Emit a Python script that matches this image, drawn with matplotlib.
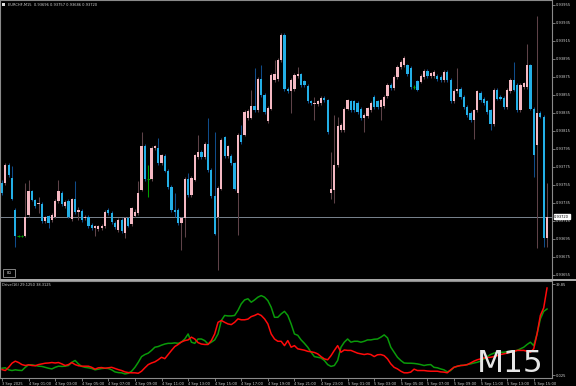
import matplotlib
matplotlib.use('Agg')
import matplotlib.pyplot as plt
from matplotlib.patches import Rectangle
import numpy as np

# EURCHF M15 candles, 3 Sep 23:00 -> 5 Sep 16:00
opens = [0.93757, 0.93757, 0.93777, 0.93763, 0.93727, 0.93698, 0.93698, 0.93698, 0.93722, 0.93748,
         0.93738, 0.93734, 0.93734, 0.93715, 0.93721, 0.93716, 0.93720, 0.93737, 0.93746, 0.93732,
         0.93737, 0.93717, 0.93739, 0.93725, 0.93726, 0.93718, 0.93720, 0.93711, 0.93707, 0.93706,
         0.93707, 0.93709, 0.93727, 0.93724, 0.93713, 0.93705, 0.93716, 0.93702, 0.93718, 0.93712,
         0.93721, 0.93724, 0.93749, 0.93798, 0.93762, 0.93762, 0.93796, 0.93796, 0.93779, 0.93787,
         0.93771, 0.93753, 0.93727, 0.93727, 0.93713, 0.93718, 0.93762, 0.93744, 0.93761, 0.93786,
         0.93792, 0.93786, 0.93801, 0.93772, 0.93743, 0.93720, 0.93751, 0.93808, 0.93787, 0.93787,
         0.93779, 0.93746, 0.93811, 0.93811, 0.93829, 0.93830, 0.93843, 0.93838, 0.93873, 0.93855,
         0.93826, 0.93840, 0.93872, 0.93873, 0.93894, 0.93922, 0.93862, 0.93859, 0.93862, 0.93876,
         0.93878, 0.93870, 0.93865, 0.93848, 0.93845, 0.93845, 0.93846, 0.93852, 0.93849, 0.93746,
         0.93749, 0.93777, 0.93816, 0.93816, 0.93840, 0.93848, 0.93848, 0.93846, 0.93840, 0.93829,
         0.93832, 0.93838, 0.93853, 0.93848, 0.93842, 0.93843, 0.93854, 0.93866, 0.93863, 0.93875,
         0.93886, 0.93888, 0.93888, 0.93885, 0.93864, 0.93870, 0.93870, 0.93875, 0.93882, 0.93876,
         0.93876, 0.93876, 0.93875, 0.93872, 0.93881, 0.93872, 0.93848, 0.93859, 0.93862, 0.93853,
         0.93842, 0.93835, 0.93827, 0.93838, 0.93857, 0.93851, 0.93848, 0.93838, 0.93823, 0.93861,
         0.93853, 0.93852, 0.93842, 0.93859, 0.93872, 0.93866, 0.93838, 0.93864, 0.93864, 0.93888,
         0.93840, 0.93799, 0.93835, 0.93831, 0.93696]
highs = [0.93761, 0.93779, 0.93779, 0.93776, 0.93729, 0.93699, 0.93700, 0.93757, 0.93761, 0.93749,
         0.93740, 0.93742, 0.93736, 0.93721, 0.93722, 0.93724, 0.93739, 0.93761, 0.93748, 0.93738,
         0.93739, 0.93741, 0.93759, 0.93731, 0.93728, 0.93722, 0.93722, 0.93713, 0.93711, 0.93711,
         0.93712, 0.93727, 0.93729, 0.93726, 0.93715, 0.93718, 0.93718, 0.93720, 0.93720, 0.93731,
         0.93728, 0.93759, 0.93814, 0.93801, 0.93777, 0.93798, 0.93800, 0.93807, 0.93790, 0.93789,
         0.93773, 0.93755, 0.93746, 0.93729, 0.93720, 0.93764, 0.93768, 0.93765, 0.93790, 0.93811,
         0.93794, 0.93803, 0.93830, 0.93774, 0.93814, 0.93754, 0.93807, 0.93810, 0.93800, 0.93789,
         0.93781, 0.93813, 0.93822, 0.93838, 0.93839, 0.93861, 0.93885, 0.93875, 0.93888, 0.93857,
         0.93843, 0.93879, 0.93894, 0.93896, 0.93924, 0.93924, 0.93864, 0.93874, 0.93879, 0.93886,
         0.93880, 0.93872, 0.93867, 0.93850, 0.93853, 0.93850, 0.93854, 0.93854, 0.93851, 0.93792,
         0.93833, 0.93831, 0.93824, 0.93842, 0.93851, 0.93850, 0.93850, 0.93848, 0.93842, 0.93835,
         0.93842, 0.93848, 0.93855, 0.93850, 0.93851, 0.93855, 0.93868, 0.93868, 0.93877, 0.93888,
         0.93894, 0.93898, 0.93890, 0.93887, 0.93866, 0.93872, 0.93878, 0.93884, 0.93884, 0.93881,
         0.93883, 0.93878, 0.93877, 0.93883, 0.93883, 0.93874, 0.93862, 0.93885, 0.93864, 0.93855,
         0.93844, 0.93837, 0.93840, 0.93861, 0.93859, 0.93853, 0.93850, 0.93840, 0.93863, 0.93863,
         0.93855, 0.93854, 0.93863, 0.93874, 0.93892, 0.93868, 0.93868, 0.93870, 0.93912, 0.93890,
         0.93842, 0.93943, 0.93837, 0.93833, 0.93757]
lows = [0.93744, 0.93755, 0.93764, 0.93738, 0.93686, 0.93697, 0.93697, 0.93697, 0.93720, 0.93737,
        0.93730, 0.93724, 0.93713, 0.93713, 0.93707, 0.93714, 0.93718, 0.93735, 0.93732, 0.93730,
        0.93718, 0.93715, 0.93723, 0.93716, 0.93714, 0.93716, 0.93707, 0.93705, 0.93698, 0.93704,
        0.93705, 0.93707, 0.93722, 0.93712, 0.93706, 0.93703, 0.93702, 0.93696, 0.93708, 0.93710,
        0.93719, 0.93722, 0.93748, 0.93759, 0.93742, 0.93760, 0.93794, 0.93777, 0.93777, 0.93769,
        0.93751, 0.93725, 0.93720, 0.93711, 0.93683, 0.93697, 0.93742, 0.93742, 0.93759, 0.93784,
        0.93784, 0.93784, 0.93770, 0.93741, 0.93699, 0.93661, 0.93749, 0.93785, 0.93785, 0.93777,
        0.93749, 0.93699, 0.93801, 0.93809, 0.93827, 0.93828, 0.93836, 0.93836, 0.93853, 0.93834,
        0.93824, 0.93838, 0.93870, 0.93871, 0.93892, 0.93860, 0.93857, 0.93835, 0.93860, 0.93874,
        0.93864, 0.93864, 0.93846, 0.93844, 0.93827, 0.93843, 0.93844, 0.93847, 0.93812, 0.93740,
        0.93735, 0.93775, 0.93814, 0.93814, 0.93838, 0.93836, 0.93836, 0.93834, 0.93827, 0.93814,
        0.93830, 0.93836, 0.93840, 0.93840, 0.93827, 0.93841, 0.93852, 0.93861, 0.93861, 0.93873,
        0.93884, 0.93886, 0.93876, 0.93862, 0.93862, 0.93859, 0.93868, 0.93873, 0.93874, 0.93874,
        0.93874, 0.93871, 0.93870, 0.93870, 0.93870, 0.93846, 0.93846, 0.93857, 0.93851, 0.93840,
        0.93831, 0.93825, 0.93806, 0.93836, 0.93847, 0.93844, 0.93834, 0.93816, 0.93821, 0.93849,
        0.93849, 0.93840, 0.93840, 0.93857, 0.93859, 0.93836, 0.93836, 0.93862, 0.93862, 0.93838,
        0.93764, 0.93685, 0.93829, 0.93686, 0.93686]
closes = [0.93746, 0.93777, 0.93766, 0.93739, 0.93698, 0.93698, 0.93698, 0.93720, 0.93748, 0.93738,
          0.93732, 0.93735, 0.93715, 0.93719, 0.93713, 0.93722, 0.93737, 0.93748, 0.93734, 0.93736,
          0.93720, 0.93739, 0.93725, 0.93727, 0.93716, 0.93720, 0.93709, 0.93707, 0.93709, 0.93709,
          0.93710, 0.93725, 0.93724, 0.93714, 0.93708, 0.93716, 0.93704, 0.93718, 0.93710, 0.93729,
          0.93725, 0.93746, 0.93798, 0.93762, 0.93762, 0.93796, 0.93798, 0.93779, 0.93788, 0.93771,
          0.93753, 0.93727, 0.93725, 0.93713, 0.93718, 0.93762, 0.93744, 0.93763, 0.93788, 0.93792,
          0.93786, 0.93801, 0.93772, 0.93743, 0.93701, 0.93752, 0.93805, 0.93787, 0.93798, 0.93779,
          0.93751, 0.93811, 0.93803, 0.93836, 0.93837, 0.93843, 0.93838, 0.93873, 0.93855, 0.93836,
          0.93841, 0.93877, 0.93878, 0.93894, 0.93922, 0.93862, 0.93859, 0.93872, 0.93877, 0.93878,
          0.93866, 0.93866, 0.93848, 0.93846, 0.93846, 0.93848, 0.93852, 0.93849, 0.93814, 0.93751,
          0.93777, 0.93821, 0.93822, 0.93840, 0.93849, 0.93838, 0.93838, 0.93836, 0.93829, 0.93833,
          0.93840, 0.93846, 0.93842, 0.93842, 0.93849, 0.93853, 0.93866, 0.93863, 0.93875, 0.93886,
          0.93892, 0.93896, 0.93878, 0.93864, 0.93864, 0.93861, 0.93876, 0.93882, 0.93876, 0.93879,
          0.93881, 0.93873, 0.93872, 0.93881, 0.93872, 0.93848, 0.93860, 0.93862, 0.93853, 0.93842,
          0.93833, 0.93827, 0.93838, 0.93859, 0.93849, 0.93846, 0.93836, 0.93823, 0.93861, 0.93851,
          0.93851, 0.93842, 0.93861, 0.93872, 0.93861, 0.93838, 0.93866, 0.93868, 0.93888, 0.93840,
          0.93788, 0.93835, 0.93831, 0.93696, 0.93720]

# Drive(16) indicator buffers
drive_green = [3.2, 3.4, 2.5, 2.2, 2.5, 2.3, 2.2, 3.6, 4.7, 4.7, 4.4, 4.1, 4.0, 3.6, 3.2, 2.9, 3.6, 4.1, 4.0, 4.1,
               4.4, 5.8, 6.6, 5.1, 4.0, 3.6, 3.4, 3.1, 2.5, 2.8, 3.1, 3.2, 3.1, 2.5, 1.6, 1.3, 1.2, 0.7, 1.0, 1.9,
               3.6, 5.8, 8.3, 9.2, 9.8, 11.0, 12.4, 12.7, 13.3, 13.8, 14.1, 14.1, 14.3, 14.1, 14.7, 16.0, 18.2, 14.6,
               14.1, 16.0, 16.0, 15.3, 13.8, 14.6, 15.6, 18.2, 24.1, 26.3, 26.1, 26.1, 26.3, 28.5, 31.4, 33.1, 33.6,
               32.1, 33.1, 34.3, 35.0, 34.3, 32.8, 29.9, 25.5, 25.5, 27.0, 28.1, 26.3, 22.6, 18.2, 17.6, 15.6, 14.1,
               12.4, 10.2, 8.3, 8.0, 7.7, 6.6, 4.8, 4.0, 4.4, 6.6, 12.4, 14.6, 16.0, 14.6, 15.0, 15.0, 14.6, 15.0,
               15.6, 15.6, 15.9, 16.0, 16.8, 17.8, 16.5, 12.4, 10.2, 8.0, 6.6, 5.5, 5.4, 5.4, 5.3, 5.1, 4.8, 4.4,
               4.7, 4.8, 3.6, 3.4, 2.9, 2.5, 1.6, 2.2, 3.6, 4.0, 4.4, 4.5, 4.8, 5.1, 5.5, 5.8, 6.3, 7.3, 8.3, 9.2,
               9.8, 10.2, 10.2, 10.2, 10.5, 10.6, 10.8, 11.0, 11.7, 12.4, 13.6, 14.6, 13.1, 18.2, 24.8, 28.1, 29.125]
drive_red = [2.6, 2.2, 3.6, 5.4, 6.3, 5.7, 4.8, 4.4, 4.7, 4.4, 4.3, 4.8, 5.1, 5.4, 5.5, 5.7, 5.5, 5.7, 5.1, 4.4,
             4.8, 5.7, 4.8, 4.3, 4.1, 4.1, 4.1, 3.6, 2.8, 3.4, 3.5, 3.2, 3.4, 3.6, 3.1, 2.6, 2.2, 1.6, 1.3, 1.2,
             1.2, 1.0, 1.9, 3.4, 4.8, 5.5, 6.0, 6.9, 8.0, 7.4, 9.2, 11.0, 12.7, 13.6, 14.7, 15.3, 15.6, 16.8,
             16.0, 14.4, 13.8, 13.6, 13.6, 15.3, 18.2, 23.3, 24.1, 23.3, 22.6, 22.3, 23.3, 24.8, 24.4, 24.4, 24.7,
             25.8, 26.3, 27.0, 26.3, 24.8, 22.6, 18.2, 16.0, 15.0, 15.0, 13.1, 15.3, 12.4, 13.1, 11.7, 11.4, 11.1,
             10.6, 10.4, 10.1, 9.5, 8.3, 7.3, 6.9, 8.7, 11.0, 13.1, 10.2, 11.2, 11.0, 11.0, 10.4, 9.8, 9.5, 9.2,
             9.5, 9.2, 8.3, 9.1, 9.2, 8.7, 7.3, 5.1, 3.6, 2.9, 1.9, 1.2, 1.2, 1.5, 2.8, 2.2, 2.2, 2.2,
             2.0, 1.9, 1.9, 1.9, 1.6, 1.5, 1.2, 2.5, 3.6, 4.1, 4.4, 4.5, 4.8, 5.5, 6.3, 6.9, 7.3, 7.7, 7.9, 8.0,
             8.3, 8.7, 9.2, 9.5, 9.8, 10.2, 10.5, 11.0, 11.0, 11.0, 10.6, 10.2, 11.7, 18.2, 26.3, 29.6, 38.3125]

price_ticks = [0.93655, 0.93675, 0.93695, 0.93715, 0.93735, 0.93755, 0.93775, 0.93795,
               0.93815, 0.93835, 0.93855, 0.93875, 0.93895, 0.93915, 0.93935, 0.93955]
time_ticks = [0, 8, 16, 24, 32, 40, 48, 56, 64, 72, 80, 88, 96, 104, 112, 120, 128, 136, 144, 152, 160]
time_labels = ['3 Sep 2025', '4 Sep 01:00', '4 Sep 03:00', '4 Sep 05:00', '4 Sep 07:00', '4 Sep 09:00',
               '4 Sep 11:00', '4 Sep 13:00', '4 Sep 15:00', '4 Sep 17:00', '4 Sep 19:00', '4 Sep 21:00',
               '4 Sep 23:00', '5 Sep 01:00', '5 Sep 03:00', '5 Sep 05:00', '5 Sep 07:00', '5 Sep 09:00',
               '5 Sep 11:00', '5 Sep 13:00', '5 Sep 15:00']
last_price = 0.93720

W, H = 576, 386
txt_col = '#d0d0d0'
frame_col = '#8a8a8a'
fs = 2.6

o = np.array(opens); h = np.array(highs); l = np.array(lows); c = np.array(closes)
bars = np.arange(len(c))
up = c > o
dn = c < o
eq = c == o


def fx(x):
    return x / W


def fy(y):
    return 1 - y / H


fig = plt.figure(figsize=(5.76, 3.86), dpi=100, facecolor='black')

# ---- price panel ----
ax1 = fig.add_axes([0, fy(279), fx(552), 279 / H], facecolor='black')
ax1.set_xlim(-0.6, 165.5)
ax1.set_ylim(0.93955 - 274 / 90000, 0.93955 + 5 / 90000)

ax1.axhline(last_price, color='#7a8590', lw=0.7, zorder=1)
ax1.vlines(bars[up], l[up], h[up], color='#5e4248', lw=0.75, zorder=2)
ax1.vlines(bars[dn], l[dn], h[dn], color='#0f4c8a', lw=0.75, zorder=2)
ax1.vlines(bars[eq], l[eq], h[eq], color='#00a000', lw=0.75, zorder=2)
ax1.bar(bars[up], c[up] - o[up], bottom=o[up], width=0.68, color='#f5b9c3', lw=0, zorder=3)
ax1.bar(bars[dn], o[dn] - c[dn], bottom=c[dn], width=0.68, color='#23afe6', lw=0, zorder=3)
ax1.hlines(c[eq], bars[eq] - 0.4, bars[eq] + 0.4, color='#00a000', lw=0.8, zorder=3)

ax1.yaxis.tick_right()
ax1.set_yticks(price_ticks)
ax1.set_yticklabels([f'{p:.5f}' for p in price_ticks])
ax1.tick_params(axis='y', colors=frame_col, labelcolor=txt_col, labelsize=fs, length=2, width=0.6, pad=1)
ax1.set_xticks([])
for s in ax1.spines.values():
    s.set_color(frame_col)
    s.set_linewidth(0.8)
ax1.spines['bottom'].set_visible(False)

ax1.text(1.004, last_price, f'{last_price:.5f}', transform=ax1.get_yaxis_transform(),
         fontsize=fs, color='black', va='center', ha='left',
         bbox=dict(boxstyle='square,pad=0.15', fc='white', ec='white'))

# ---- Drive panel ----
ax2 = fig.add_axes([0, fy(378), fx(552), 97 / H], facecolor='black')
ax2.set_xlim(-0.6, 165.5)
ax2.set_ylim(-1.07, 41.38)
ax2.plot(bars, drive_green, color='#0a9a0a', lw=1.1)
ax2.plot(bars, drive_red, color='#ff0a0a', lw=1.1)
ax2.yaxis.tick_right()
ax2.set_yticks([0.025, 39.85])
ax2.set_yticklabels(['0.025', '39.85'])
ax2.tick_params(axis='y', colors=frame_col, labelcolor=txt_col, labelsize=fs, length=2, width=0.6, pad=1)
ax2.set_xticks(time_ticks)
ax2.set_xticklabels(time_labels)
for lab in ax2.get_xticklabels():
    lab.set_horizontalalignment('left')
ax2.tick_params(axis='x', colors=frame_col, labelcolor=txt_col, labelsize=fs, length=2, width=0.6, pad=1)
for s in ax2.spines.values():
    s.set_color(frame_col)
    s.set_linewidth(0.8)

# separator between panels
fig.patches.append(Rectangle((0, fy(281)), fx(576), 2 / H, transform=fig.transFigure,
                             color='#a8a8a8', lw=0))

# labels
fig.patches.append(Rectangle((fx(2), fy(6)), 3 / W, 3 / H, transform=fig.transFigure,
                             color='#e0e0e0', lw=0))
fig.text(fx(8), fy(4.5), 'EURCHF,M15  0.93696 0.93757 0.93686 0.93720', fontsize=fs,
         color=txt_col, va='center', ha='left')
fig.patches.append(Rectangle((fx(3), fy(277)), 12 / W, 8 / H, transform=fig.transFigure,
                             fc='black', ec='#9a9a9a', lw=0.6))
fig.text(fx(9), fy(273), 'BG', fontsize=fs, color=txt_col, va='center', ha='center')
fig.text(fx(2), fy(285), 'Drive(16) 29.1250 38.3125', fontsize=fs, color=txt_col,
         va='center', ha='left')
fig.text(fx(477), fy(372), 'M15', fontsize=22.5, color='#e6e6e6', va='baseline', ha='left')

fig.savefig('out.png', dpi=100, facecolor='black')
